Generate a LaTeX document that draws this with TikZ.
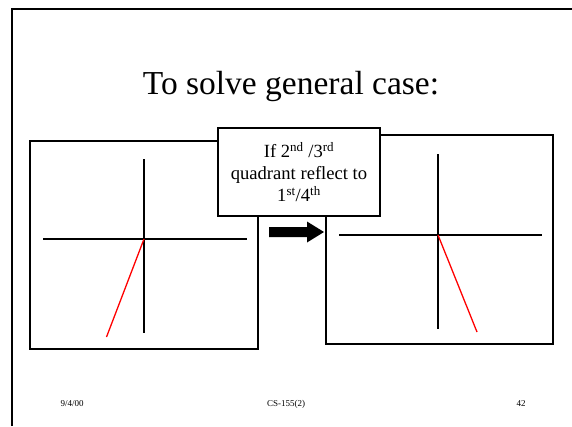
\documentclass[tikz,border=0pt]{standalone}
\usepackage{fontspec}
\setmainfont{Liberation Serif}
\usetikzlibrary{positioning}

\tikzset{
  panel/.style={line width=1.6pt},
  axis/.style={line width=1.3pt},
  ray/.style={red,line width=1.3pt},
  footer/.style={font=\fontsize{9}{11}\selectfont,anchor=base}
}

\begin{document}
\begin{tikzpicture}[x=1pt,y=-1pt, every node/.style={inner sep=0pt}]
  \useasboundingbox (0,0) rectangle (572,426);
  % slide frame
  \draw[line width=2pt] (12,426) -- (12,9) -- (572,9);

  % title
  \node[anchor=base,font=\fontsize{33.5}{38}\selectfont] (title) at (291,94) {To solve general case:};

  % left panel: ray in 3rd quadrant
  \draw[panel] (30,141) rectangle (258,349);
  \coordinate (o1) at (144,239);
  \draw[axis] (43,239) -- (247,239);
  \draw[axis] (144,159) -- (144,333);
  \draw[ray] (o1) -- (106.5,337);

  % right panel: reflected ray in 4th quadrant
  \draw[panel] (326,135) rectangle (553,344);
  \coordinate (o2) at (438,235);
  \draw[axis] (339,235) -- (542,235);
  \draw[axis] (438,154) -- (438,329);
  \draw[ray] (o2) -- (477,332);

  % block arrow between panels
  \fill (269,227) -- (307,227) -- (307,221.5) -- (324,232) -- (307,242.5)
        -- (307,237) -- (269,237) -- cycle;

  % rule box
  \node[draw,fill=white,panel,minimum width=162pt,minimum height=88pt,
        align=center,font=\fontsize{18.6}{22}\selectfont] (rule) at (299,172)
    {If 2\textsuperscript{nd} /3\textsuperscript{rd}\\
     quadrant reflect to\\
     1\textsuperscript{st}/4\textsuperscript{th}};

  % footer
  \node[footer,anchor=base west] (date) at (60.5,406) {9/4/00};
  \node[footer] (course) at (286,406) {CS-155(2)};
  \node[footer] (page) at (521,406) {42};
\end{tikzpicture}
\end{document}
